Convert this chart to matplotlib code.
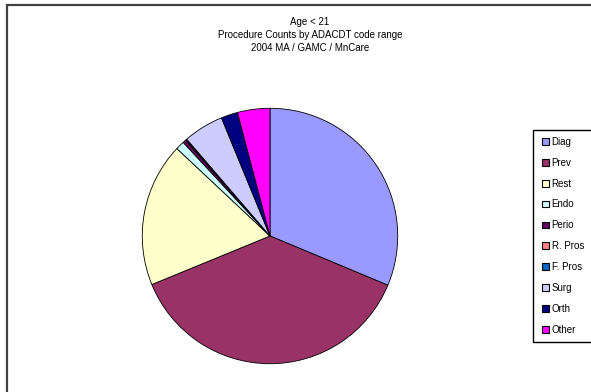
import matplotlib.pyplot as plt
from matplotlib.patches import Rectangle

plt.rcParams['font.family'] = ['Liberation Sans', 'DejaVu Sans']

# procedure share by code range (percent)
labels = ["Diag", "Prev", "Rest", "Endo", "Perio", "R. Pros", "F. Pros", "Surg", "Orth", "Other"]
values = [31.3, 37.5, 18.2, 1.1, 0.4, 0.1, 0.1, 5.1, 2.1, 4.1]
colors = ["#9999FF", "#993366", "#FFFFCC", "#CCFFFF", "#660066",
          "#FF8080", "#0066CC", "#CCCCFF", "#000080", "#FF00FF"]
title_lines = ["Age < 21", "Procedure Counts by ADACDT code range", "2004 MA / GAMC / MnCare"]

W, H = 591, 392
fig = plt.figure(figsize=(W / 100, H / 100), dpi=100)

# outer chart border (runs off the right and bottom edges)
fig.patches.append(Rectangle((7 / W, -0.05), 1.1, 1 - 5 / H + 0.05, transform=fig.transFigure,
                             fill=False, edgecolor="#404040", linewidth=1.6))

# title
for i, line in enumerate(title_lines):
    fig.text(310 / W, 1 - (22 + 13 * i) / H, line, ha="center", va="center", fontsize=7)

# pie
cx, cy, r = 270, 236, 129
ax = fig.add_axes([(cx - r) / W, (H - cy - r) / H, 2 * r / W, 2 * r / H])
wedges, _ = ax.pie(values, colors=colors, startangle=90, counterclock=False,
                   wedgeprops=dict(edgecolor="black", linewidth=0.6))
ax.set_xlim(-1.01, 1.01)
ax.set_ylim(-1.01, 1.01)
ax.set_aspect("equal")

# legend box (also cut by the right edge)
fig.patches.append(Rectangle((533 / W, 1 - 342 / H), 0.2, (342 - 130) / H, transform=fig.transFigure,
                             fill=False, edgecolor="black", linewidth=1.0))
handles = [Rectangle((0, 0), 1, 1, facecolor=c, edgecolor="black", linewidth=0.8) for c in colors]
fig.legend(handles, labels, loc="upper left", bbox_to_anchor=(535 / W, 1 - 130 / H),
           frameon=False, fontsize=7, handlelength=0.7, handleheight=0.7,
           handletextpad=0.3, labelspacing=1.12, borderpad=0.2)

fig.savefig("out.png", dpi=100)
